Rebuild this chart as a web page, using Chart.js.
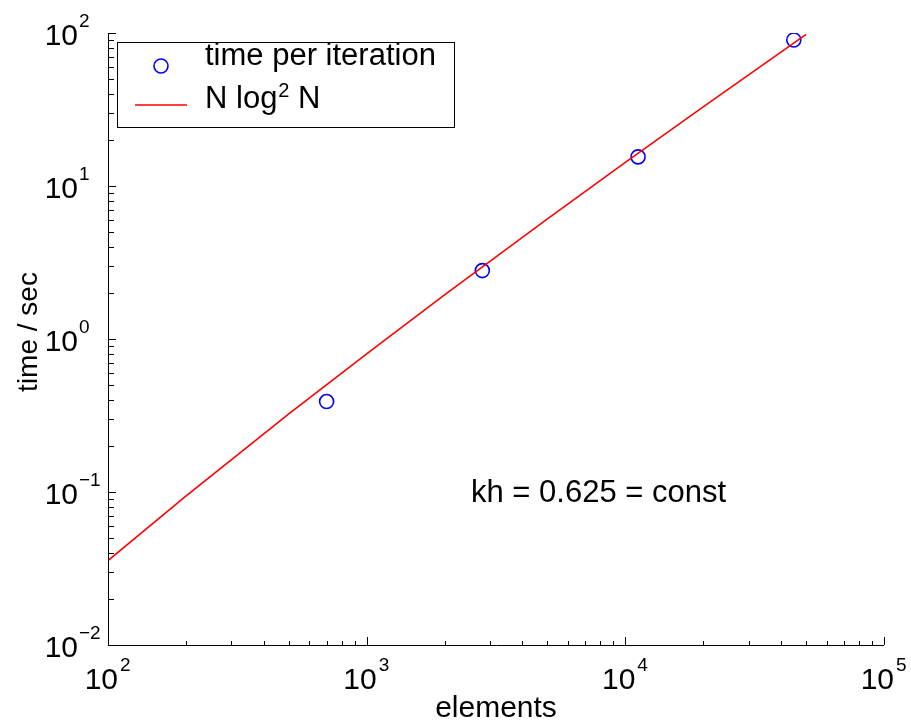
<!DOCTYPE html>
<html>
<head>
<meta charset="utf-8">
<script src="https://cdn.jsdelivr.net/npm/chart.js@4.4.0/dist/chart.umd.min.js"></script>
<style>
  html, body { margin: 0; padding: 0; background: #fff; }
  #wrap { width: 911px; height: 726px; }
</style>
</head>
<body>
<div id="wrap"><canvas id="timeChart" width="911" height="726"></canvas></div>
<script>
// measured points
var elements = [700, 2800, 11200, 44800];
var timePerIter = [0.39, 2.8, 15.5, 90];

// N log^2 N curve
var fitN = [100, 200, 500, 1000, 2000, 5000, 10000, 20000, 50000];
var fitTime = [0.0356, 0.094, 0.324, 0.80, 1.94, 6.1, 14.25, 32.9, 98];

var xTicks = [100, 1000, 10000, 100000];
var yTicks = [0.01, 0.1, 1, 10, 100];
var xTickExp = ['2', '3', '4', '5'];
var yTickExp = ['\u22122', '\u22121', '0', '1', '2'];

var FONT = 'Liberation Sans, Arial, Helvetica, sans-serif';

function minorTicks(lo, hi) {
    var out = [];
    for (var d = lo; d < hi; d *= 10) {
        for (var k = 2; k <= 9; k++) out.push(d * k);
    }
    return out;
}

var axesPlugin = {
    id: 'matlabAxes',
    afterDatasetsDraw: function (chart) {
        var ctx = chart.ctx;
        var a = chart.chartArea;
        var xs = chart.scales.x, ys = chart.scales.y;
        ctx.save();
        ctx.strokeStyle = '#000';
        ctx.lineWidth = 1;

        // axis lines (left and bottom only)
        ctx.beginPath();
        ctx.moveTo(a.left + 0.5, a.top);
        ctx.lineTo(a.left + 0.5, a.bottom + 0.5);
        ctx.lineTo(a.right, a.bottom + 0.5);
        ctx.stroke();

        // ticks pointing inward
        ctx.beginPath();
        xTicks.forEach(function (v) {
            var px = Math.round(xs.getPixelForValue(v)) + 0.5;
            ctx.moveTo(px, a.bottom); ctx.lineTo(px, a.bottom - 8);
        });
        minorTicks(100, 100000).forEach(function (v) {
            var px = Math.round(xs.getPixelForValue(v)) + 0.5;
            ctx.moveTo(px, a.bottom); ctx.lineTo(px, a.bottom - 4);
        });
        yTicks.forEach(function (v) {
            var py = Math.round(ys.getPixelForValue(v)) + 0.5;
            ctx.moveTo(a.left, py); ctx.lineTo(a.left + 8, py);
        });
        minorTicks(0.01, 100).forEach(function (v) {
            var py = Math.round(ys.getPixelForValue(v)) + 0.5;
            ctx.moveTo(a.left, py); ctx.lineTo(a.left + 6, py);
        });
        ctx.stroke();

        // tick labels 10^n
        ctx.fillStyle = '#000';
        ctx.textBaseline = 'alphabetic';
        xTicks.forEach(function (v, i) {
            var px = xs.getPixelForValue(v);
            ctx.font = '30px ' + FONT;
            ctx.textAlign = 'right';
            ctx.fillText('10', px + 10, a.bottom + 44);
            ctx.font = '19px ' + FONT;
            ctx.textAlign = 'left';
            ctx.fillText(xTickExp[i], px + 12, a.bottom + 26);
        });
        yTicks.forEach(function (v, i) {
            var py = ys.getPixelForValue(v);
            ctx.font = '30px ' + FONT;
            ctx.textAlign = 'right';
            ctx.fillText('10', 78, py + 12);
            ctx.font = '19px ' + FONT;
            ctx.textAlign = 'left';
            ctx.fillText(yTickExp[i], 79, py - 6);
        });

        // axis titles
        ctx.font = '30px ' + FONT;
        ctx.textAlign = 'center';
        ctx.fillText('elements', 496, 717);
        ctx.save();
        ctx.translate(37, 332);
        ctx.rotate(-Math.PI / 2);
        ctx.font = '28px ' + FONT;
        ctx.fillText('time / sec', 0, 0);
        ctx.restore();

        // annotation
        ctx.font = '31px ' + FONT;
        ctx.textAlign = 'left';
        ctx.fillText('kh = 0.625 = const', 471, 502);

        // legend
        ctx.fillStyle = '#fff';
        ctx.fillRect(117, 42, 337, 85);
        ctx.strokeStyle = '#000';
        ctx.lineWidth = 1;
        ctx.strokeRect(117.5, 42.5, 337, 85);
        ctx.strokeStyle = '#0000ff';
        ctx.lineWidth = 1.6;
        ctx.beginPath();
        ctx.arc(161, 66, 7, 0, Math.PI * 2);
        ctx.stroke();
        ctx.strokeStyle = '#ff0000';
        ctx.beginPath();
        ctx.moveTo(135, 105); ctx.lineTo(187, 105);
        ctx.stroke();
        ctx.fillStyle = '#000';
        ctx.font = '31px ' + FONT;
        ctx.fillText('time per iteration', 205, 65);
        ctx.fillText('N log', 205, 108);
        var w = ctx.measureText('N log').width;
        ctx.font = '20px ' + FONT;
        ctx.fillText('2', 205 + w + 1, 97);
        var w2 = ctx.measureText('2').width;
        ctx.font = '31px ' + FONT;
        ctx.fillText(' N', 205 + w + w2 + 1, 108);

        ctx.restore();
    }
};

document.addEventListener("DOMContentLoaded", function () {
    var ctx = document.getElementById('timeChart').getContext('2d');
    var timeChart = new Chart(ctx, {
        type: 'scatter',
        data: {
            datasets: [{
                label: 'N log^2 N',
                data: fitN.map(function (n, i) { return { x: n, y: fitTime[i] }; }),
                showLine: true,
                borderColor: '#ff0000',
                borderWidth: 1.6,
                pointRadius: 0,
                fill: false
            }, {
                label: 'time per iteration',
                data: elements.map(function (n, i) { return { x: n, y: timePerIter[i] }; }),
                pointStyle: 'circle',
                pointRadius: 7,
                pointBorderColor: '#0000ff',
                pointBackgroundColor: 'rgba(0,0,0,0)',
                pointBorderWidth: 1.6
            }]
        },
        options: {
            responsive: false,
            animation: false,
            events: [],
            layout: { padding: { left: 108, right: 27, top: 33, bottom: 81 } },
            plugins: { legend: { display: false }, tooltip: { enabled: false } },
            scales: {
                x: { type: 'logarithmic', min: 100, max: 100000, display: false },
                y: { type: 'logarithmic', min: 0.01, max: 100, display: false }
            }
        },
        plugins: [axesPlugin]
    });
});
</script>
</body>
</html>
